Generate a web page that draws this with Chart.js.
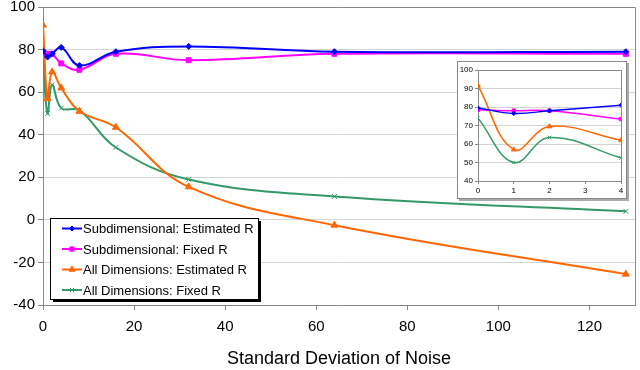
<!doctype html>
<html>
<head>
<script src="https://cdn.jsdelivr.net/npm/chart.js"></script>
<style>
	body { margin: 0; background: #fff; }
	#wrap { position: relative; width: 640px; height: 370px; }
	#inset { position: absolute; left: 457px; top: 61px; width: 168px; height: 136px;
		background: #fff; border: 1px solid #888; box-shadow: 2px 2px 0 #aaa; }
</style>
</head>
<body>
<div id="wrap">
	<canvas id="main-chart" width="640" height="370"></canvas>
	<div id="inset"><canvas id="inset-chart" width="168" height="136"></canvas></div>
</div>
<script>
	// noise levels (x) and results for each method
	var noise = [0, 1, 2, 4, 8, 16, 32, 64, 128];
	var subEst = [79.5, 76.5, 78, 81, 72.5, 79, 81.5, 79, 79];
	var subFixed = [78.5, 78, 78, 73.5, 70.5, 78, 75, 78, 78];
	var allEst = [91.5, 57, 69.5, 62, 51, 43.5, 15.5, -2.5, -25.5];
	var allFixed = [74, 50, 63.5, 52.5, 51.5, 34, 19, 11, 4];
	var seriesNames = ['Subdimensional: Estimated R', 'Subdimensional: Fixed R',
		'All Dimensions: Estimated R', 'All Dimensions: Fixed R'];
	var xTitle = 'Standard Deviation of Noise';

	var FONT = 'Liberation Sans, Arial, sans-serif';

	/*--------series style---------*/
	var styles = [
		{color: '#0000ff', point: 'rectRot', r: 3},
		{color: '#ff00ff', point: 'rect', r: 3.5},
		{color: '#ff6600', point: 'triangle', r: 4},
		{color: '#339966', point: 'crossRot', r: 3.5}
	];
	var allValues = [subEst, subFixed, allEst, allFixed];

	function makeDatasets(maxX, small) {
		return allValues.map(function(vals, i) {
			var pts = [];
			noise.forEach(function(x, j) {
				if (x <= maxX) pts.push({x: x, y: vals[j]});
			});
			return {
				label: seriesNames[i],
				data: pts,
				borderColor: styles[i].color,
				backgroundColor: styles[i].color,
				pointStyle: styles[i].point,
				pointRadius: small ? styles[i].r * 0.7 : styles[i].r,
				pointBorderWidth: 1,
				borderWidth: small ? 1.5 : 2,
				tension: 0.4,
				fill: false
			};
		});
	}

	// keep the plot area where the padding puts it (no room reserved for half labels)
	function noLabelPad(s) {
		s.paddingTop = 0;
		s.paddingBottom = 0;
	}

	// plot border + legend box drawn on the canvas
	var boxPlugin = {
		id: 'boxPlugin',
		afterDraw: function(chart, args, opts) {
			var ctx = chart.ctx, a = chart.chartArea;
			ctx.save();
			ctx.strokeStyle = '#888';
			ctx.lineWidth = 1;
			ctx.beginPath();
			ctx.moveTo(a.left, a.top + 0.5);
			ctx.lineTo(a.right + 0.5, a.top + 0.5);
			ctx.lineTo(a.right + 0.5, a.bottom);
			ctx.stroke();
			if (opts.legend) {
				var bx = 50, by = 218, bw = 208, bh = 81;
				ctx.fillStyle = '#000';
				ctx.fillRect(bx + 3, by + 3, bw, bh);
				ctx.fillStyle = '#fff';
				ctx.fillRect(bx, by, bw, bh);
				ctx.strokeStyle = '#000';
				ctx.strokeRect(bx + 0.5, by + 0.5, bw, bh);
				ctx.font = '13px ' + FONT;
				ctx.textBaseline = 'middle';
				seriesNames.forEach(function(name, i) {
					var y = by + 10.5 + i * 20.5;
					ctx.strokeStyle = styles[i].color;
					ctx.fillStyle = styles[i].color;
					ctx.lineWidth = 2;
					ctx.beginPath();
					ctx.moveTo(62, y);
					ctx.lineTo(82, y);
					ctx.stroke();
					ctx.lineWidth = 1;
					Chart.helpers.drawPoint(ctx, {pointStyle: styles[i].point, radius: styles[i].r - 0.5, rotation: 0, borderWidth: 1}, 72, y);
					ctx.fillStyle = '#000';
					ctx.fillText(name, 83, y + 1);
				});
			}
			ctx.restore();
		}
	};

	/*--------main chart---------*/
	new Chart(document.getElementById('main-chart').getContext('2d'), {
		type: 'line',
		data: {datasets: makeDatasets(128, false)},
		plugins: [boxPlugin],
		options: {
			responsive: false,
			animation: false,
			layout: {padding: {top: 7, right: 3, left: 0, bottom: 0}},
			plugins: {legend: {display: false}, tooltip: {enabled: false}, boxPlugin: {legend: true}},
			scales: {
				x: {
					type: 'linear', min: 0, max: 130,
					ticks: {stepSize: 20, includeBounds: false, color: '#000', font: {family: FONT, size: 15}, padding: 8},
					grid: {drawOnChartArea: false, tickLength: 5, color: '#888'},
					border: {color: '#888'},
					title: {display: true, text: xTitle, color: '#000', font: {family: FONT, size: 18}, padding: {top: 4, bottom: 0}},
					afterFit: function(s) { s.height = 65; }
				},
				y: {
					min: -40, max: 100,
					ticks: {stepSize: 20, color: '#000', font: {family: FONT, size: 15}, padding: 3},
					grid: {color: '#d4d4d4', tickLength: 5, tickColor: '#888'},
					border: {color: '#888'},
					afterFit: function(s) { s.width = 43; noLabelPad(s); }
				}
			}
		}
	});

	/*--------inset chart (0..4)---------*/
	new Chart(document.getElementById('inset-chart').getContext('2d'), {
		type: 'line',
		data: {datasets: makeDatasets(4, true)},
		plugins: [boxPlugin],
		options: {
			responsive: false,
			animation: false,
			layout: {padding: {top: 8, right: 4, left: 0, bottom: 0}},
			plugins: {legend: {display: false}, tooltip: {enabled: false}, boxPlugin: {legend: false}},
			scales: {
				x: {
					type: 'linear', min: 0, max: 4,
					ticks: {stepSize: 1, color: '#000', font: {family: FONT, size: 8}, padding: 2},
					grid: {drawOnChartArea: false, tickLength: 3, color: '#888'},
					border: {color: '#888'},
					afterFit: function(s) { s.height = 17; }
				},
				y: {
					min: 40, max: 100,
					ticks: {stepSize: 10, color: '#000', font: {family: FONT, size: 8}, padding: 2},
					grid: {color: '#d4d4d4', tickLength: 3, tickColor: '#888'},
					border: {color: '#888'},
					afterFit: function(s) { s.width = 20; noLabelPad(s); }
				}
			}
		}
	});
</script>
</body>
</html>
